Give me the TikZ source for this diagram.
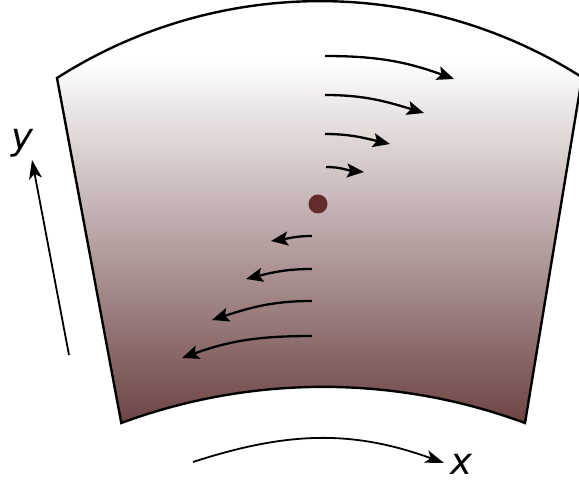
\documentclass[tikz,border=0pt]{standalone}
\usepackage{fontspec}
\setsansfont{DejaVu Sans}
\usetikzlibrary{arrows.meta}
\definecolor{sheetdark}{RGB}{110,68,68}
\definecolor{dotcol}{RGB}{98,44,44}
\pgfdeclareverticalshading{sheet}{100bp}{color(0bp)=(sheetdark); color(25bp)=(sheetdark); color(65.5bp)=(white); color(100bp)=(white)}
\begin{document}
\begin{tikzpicture}[x=1pt,y=1pt,
  edge/.style={line width=2.4pt,line join=miter},
  flow/.style={line width=2.3pt,-{Stealth[length=17pt,width=14pt,inset=3.5pt]}},
  axisarrow/.style={line width=1.8pt,-{Stealth[length=19pt,width=13pt,inset=5pt]}},
  lab/.style={font=\fontsize{37}{40}\selectfont\sffamily\itshape,inner sep=0pt,anchor=base}]
\path[use as bounding box] (0,0) rectangle (579,485);
\clip (0,0) rectangle (579,485);
% sheet
\coordinate (TL) at (57,407);
\coordinate (BR) at (525,62);
\path[shade,shading=sheet,draw,edge] (TL) arc[start angle=122.58,end angle=57.58,radius=488.6]
  -- (BR) arc[start angle=69.7,end angle=110.3,radius=581.9] -- cycle;
% centre dot
\fill[dotcol] (318,281) circle (9.5);
% flow arrows, upper half
\coordinate (a1s) at (325,429); \coordinate (a1e) at (454,406);
\coordinate (a2s) at (325,390); \coordinate (a2e) at (424,372);
\coordinate (a3s) at (325,351); \coordinate (a3e) at (390,341);
\coordinate (a4s) at (326,318); \coordinate (a4e) at (364,313);
\draw[flow] (a1s) to[out=0,in=160] (a1e);
\draw[flow] (a2s) to[out=0,in=163] (a2e);
\draw[flow] (a3s) to[out=0,in=167] (a3e);
\draw[flow] (a4s) to[out=0,in=175] (a4e);
% flow arrows, lower half
\coordinate (b1s) at (312,249); \coordinate (b1e) at (271,244);
\coordinate (b2s) at (312,216); \coordinate (b2e) at (246,206);
\coordinate (b3s) at (312,184); \coordinate (b3e) at (212,165);
\coordinate (b4s) at (312,149); \coordinate (b4e) at (182,127);
\draw[flow] (b1s) to[out=180,in=8] (b1e);
\draw[flow] (b2s) to[out=180,in=14] (b2e);
\draw[flow] (b3s) to[out=180,in=18] (b3e);
\draw[flow] (b4s) to[out=180,in=20] (b4e);
% axes
\coordinate (ys) at (69,130); \coordinate (ye) at (32,325);
\draw[axisarrow] (ys) -- (ye);
\node[lab] (ylab) at (22,335) {y};
\coordinate (xs) at (193,23); \coordinate (xe) at (444,22);
\draw[axisarrow] (xs) to[out=18,in=160] (xe);
\node[lab] (xlab) at (461,10) {x};
\end{tikzpicture}
\end{document}
